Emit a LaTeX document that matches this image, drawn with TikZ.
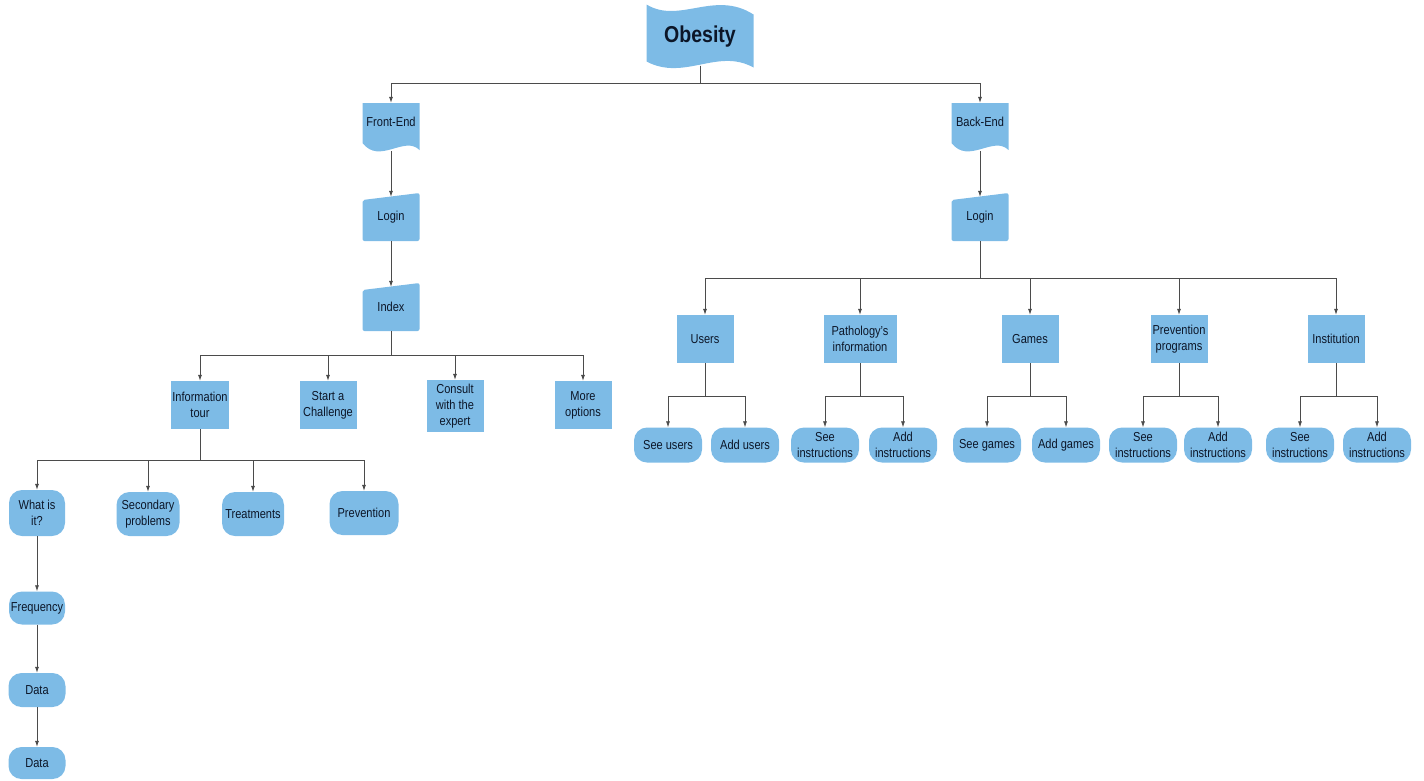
\documentclass[tikz,border=0pt]{standalone}
\usepackage{fontspec}
\setmainfont{Liberation Sans}[FakeStretch=0.85]
\usetikzlibrary{arrows.meta}
\definecolor{boxblue}{RGB}{125,187,230}
\definecolor{textcol}{RGB}{12,22,40}
\definecolor{linecol}{RGB}{75,75,75}
\begin{document}
\begin{tikzpicture}[x=1pt,y=-1pt,
    every node/.style={font=\fontsize{13}{16}\selectfont, text=textcol, align=center, inner sep=1pt},
    proc/.style={fill=boxblue, minimum width=57pt, minimum height=48pt},
    term/.style={fill=boxblue, rounded corners=13pt, minimum width=68pt, minimum height=35pt},
    docbox/.style={minimum width=57pt, minimum height=48pt, text depth=10pt,
      path picture={\fill[boxblue] (path picture bounding box.north west) -- (path picture bounding box.north east)
        -- ([yshift=1pt]path picture bounding box.south east)
        .. controls ([shift={(-15pt,16pt)}]path picture bounding box.south east) and ([shift={(-40pt,-14pt)}]path picture bounding box.south east)
        .. ([yshift=8pt]path picture bounding box.south west) -- cycle;}},
    manin/.style={minimum width=57pt, minimum height=48pt,
      path picture={\fill[boxblue, rounded corners=2pt] ([yshift=-7pt]path picture bounding box.north west) -- (path picture bounding box.north east)
        -- (path picture bounding box.south east) -- (path picture bounding box.south west) -- cycle;}},
    flag/.style={minimum width=107pt, minimum height=65pt, font=\fontsize{23}{26}\selectfont\bfseries,
      path picture={\fill[boxblue] (path picture bounding box.north west)
        .. controls ([shift={(33pt,-20pt)}]path picture bounding box.north west) and ([shift={(68pt,15pt)}]path picture bounding box.north west)
        .. ([yshift=-10pt]path picture bounding box.north east) -- ([yshift=2pt]path picture bounding box.south east)
        .. controls ([shift={(-36pt,22pt)}]path picture bounding box.south east) and ([shift={(-69pt,-12pt)}]path picture bounding box.south east)
        .. ([yshift=8pt]path picture bounding box.south west) -- cycle;}},
    arr/.style={draw=linecol, line width=0.7pt, -{Latex[length=6pt,width=4pt]}}]
  \useasboundingbox (0,0) rectangle (1424,780);
  \path
    (700,37) node[flag] (obesity){Obesity}
    (391,127) node[docbox] (frontend){Front-End}
    (980,127) node[docbox] (backend){Back-End}
    (391,217) node[manin] (felogin){Login}
    (980,217) node[manin] (belogin){Login}
    (391,307) node[manin] (index){Index}
    (200,405) node[proc] (infotour){Information\\tour}
    (328,405) node[proc] (challenge){Start a\\Challenge}
    (455,406) node[proc, minimum height=52pt] (consult){Consult\\with the\\expert}
    (583,405) node[proc] (moreopt){More\\options}
    (37,513) node[term, minimum width=56pt, minimum height=46pt] (whatis){What is\\it?}
    (148,514) node[term, minimum width=63pt, minimum height=44pt] (secondary){Secondary\\problems}
    (253,514) node[term, minimum width=62pt, minimum height=44pt] (treatments){Treatments}
    (364,513) node[term, minimum width=69pt, minimum height=44pt] (prevention){Prevention}
    (37,608) node[term, minimum width=56pt, minimum height=33pt] (frequency){Frequency}
    (37,690) node[term, minimum width=57pt, minimum height=34pt] (data1){Data}
    (37,763) node[term, minimum width=57pt, minimum height=32pt] (data2){Data}
    (705,339) node[proc] (users){Users}
    (860,339) node[proc, minimum width=73pt] (pathology){Pathology's\\information}
    (1030,339) node[proc] (games){Games}
    (1179,339) node[proc] (prevprog){Prevention\\programs}
    (1336,339) node[proc] (institution){Institution}
    (668,445) node[term] (seeusers){See users}
    (745,445) node[term] (addusers){Add users}
    (825,445) node[term] (seepath){See\\instructions}
    (903,445) node[term] (addpath){Add\\instructions}
    (987,445) node[term] (seegames){See games}
    (1066,445) node[term] (addgames){Add games}
    (1143,445) node[term] (seeprev){See\\instructions}
    (1218,445) node[term] (addprev){Add\\instructions}
    (1300,445) node[term] (seeinst){See\\instructions}
    (1377,445) node[term] (addinst){Add\\instructions};
  \coordinate (bus0) at (700,83);
  \coordinate (bus1) at (391,355);
  \coordinate (bus2) at (200,460);
  \coordinate (bus3) at (980,278);
  \coordinate (bus4) at (705,396);
  \coordinate (bus5) at (860,396);
  \coordinate (bus6) at (1030,396);
  \coordinate (bus7) at (1179,396);
  \coordinate (bus8) at (1336,396);
  \begin{scope}[arr]
    \draw ([yshift=4pt]obesity.south) -- (bus0) -| (frontend.north);
    \draw ([yshift=4pt]obesity.south) -- (bus0) -| (backend.north);
    \draw (frontend.south) -- ([yshift=-4pt]felogin.north);
    \draw (backend.south) -- ([yshift=-4pt]belogin.north);
    \draw (felogin.south) -- ([yshift=-4pt]index.north);
    \draw (index.south) -- (bus1) -| (infotour.north);
    \draw (index.south) -- (bus1) -| (challenge.north);
    \draw (index.south) -- (bus1) -| (consult.north);
    \draw (index.south) -- (bus1) -| (moreopt.north);
    \draw (infotour.south) -- (bus2) -| (whatis.north);
    \draw (infotour.south) -- (bus2) -| (secondary.north);
    \draw (infotour.south) -- (bus2) -| (treatments.north);
    \draw (infotour.south) -- (bus2) -| (prevention.north);
    \draw (whatis.south) -- (frequency.north);
    \draw (frequency.south) -- (data1.north);
    \draw (data1.south) -- (data2.north);
    \draw (belogin.south) -- (bus3) -| (users.north);
    \draw (belogin.south) -- (bus3) -| (pathology.north);
    \draw (belogin.south) -- (bus3) -| (games.north);
    \draw (belogin.south) -- (bus3) -| (prevprog.north);
    \draw (belogin.south) -- (bus3) -| (institution.north);
    \draw (users.south) -- (bus4) -| (seeusers.north);
    \draw (users.south) -- (bus4) -| (addusers.north);
    \draw (pathology.south) -- (bus5) -| (seepath.north);
    \draw (pathology.south) -- (bus5) -| (addpath.north);
    \draw (games.south) -- (bus6) -| (seegames.north);
    \draw (games.south) -- (bus6) -| (addgames.north);
    \draw (prevprog.south) -- (bus7) -| (seeprev.north);
    \draw (prevprog.south) -- (bus7) -| (addprev.north);
    \draw (institution.south) -- (bus8) -| (seeinst.north);
    \draw (institution.south) -- (bus8) -| (addinst.north);
  \end{scope}
\end{tikzpicture}
\end{document}
